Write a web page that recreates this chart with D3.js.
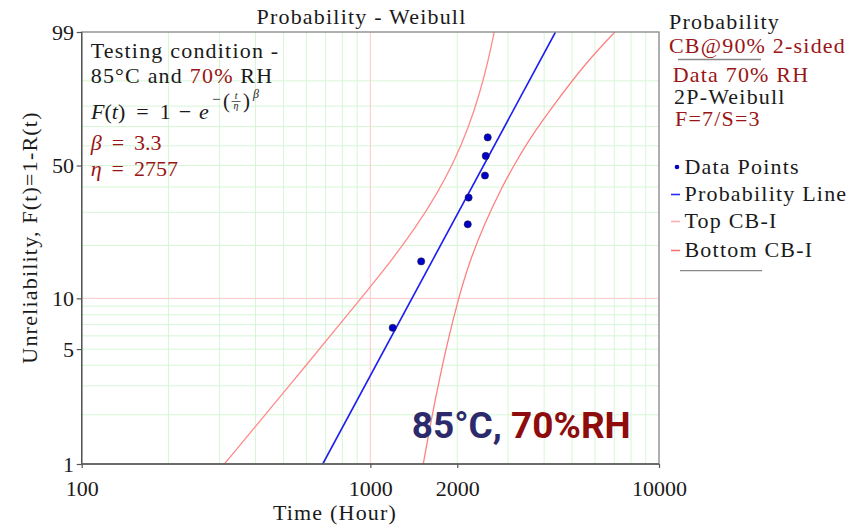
<!DOCTYPE html>
<html>
<head>
<meta charset="utf-8">
<script src="https://cdn.jsdelivr.net/npm/d3@7/dist/d3.min.js"></script>
<style>
body { margin: 0; background: #fff; }
text { font-family: "Liberation Serif", "Times New Roman", serif; }
.lbl { letter-spacing: 1.2px; }
</style>
</head>
<body>
<svg id="chart" width="866" height="527"></svg>
<script>
// failure data (median ranks, %)
var failureTimes = [1195, 1500, 2175, 2190, 2495, 2510, 2550];
var medianRanks = [6.7, 16.3, 26.0, 35.6, 45.2, 54.8, 64.4];

// fitted probability line end points
var lineTimes = [684, 4380];
var lineF = [1, 99];

// 90% two-sided confidence bounds
var topTimes = [312, 533, 951, 1177, 1432, 1697, 1954, 2185, 2385, 2557, 2687];
var topF = [1, 3.11, 10.5, 16.3, 24.9, 36.8, 52.1, 69.3, 84.9, 95.2, 99];
var bottomTimes = [1525, 1625, 1733, 1858, 2020, 2204, 2475, 2857, 3143, 3572, 4395, 5495, 7030];
var bottomF = [1, 1.86, 3.26, 5.67, 10, 16.2, 25.8, 40.0, 50, 64.1, 81.8, 94.4, 99];

// ticks and grid
var xTicks = [100, 1000, 2000, 10000];
var yTicks = [1, 5, 10, 50, 99];
var xMinor = [200, 300, 400, 500, 600, 700, 800, 900, 2000, 3000, 4000, 5000, 6000, 7000, 8000, 9000];
var xMajor = [1000];
var yMinor = [2, 3, 4, 5, 6, 7, 8, 9, 20, 30, 40, 50, 60, 70, 80, 90];
var yMajor = [10];

var red = "#9a1515";
var plot = {left: 81.7, right: 659, top: 32, bottom: 464};

// weibull probability paper transform
function wb(p) { return Math.log(-Math.log(1 - p / 100)); }

var x = d3.scaleLog().domain([100, 10000]).range([plot.left, plot.right]);
var y = d3.scaleLinear().domain([wb(1), wb(99)]).range([plot.bottom, plot.top]);

var svg = d3.select("#chart");
svg.append("rect").attr("width", 866).attr("height", 527).attr("fill", "#fff");

svg.append("clipPath").attr("id", "clip")
  .append("rect")
    .attr("x", plot.left).attr("y", plot.top)
    .attr("width", plot.right - plot.left).attr("height", plot.bottom - plot.top);

// grid
var grid = svg.append("g");
grid.selectAll(".gx").data(xMinor).enter().append("line")
  .attr("x1", d => x(d)).attr("x2", d => x(d))
  .attr("y1", plot.top).attr("y2", plot.bottom)
  .attr("stroke", "#d6f6d6").attr("stroke-width", 1);
grid.selectAll(".gy").data(yMinor).enter().append("line")
  .attr("x1", plot.left).attr("x2", plot.right)
  .attr("y1", d => y(wb(d))).attr("y2", d => y(wb(d)))
  .attr("stroke", "#d6f6d6").attr("stroke-width", 1);
grid.selectAll(".rx").data(xMajor).enter().append("line")
  .attr("x1", d => x(d)).attr("x2", d => x(d))
  .attr("y1", plot.top).attr("y2", plot.bottom)
  .attr("stroke", "#ffc8c8").attr("stroke-width", 1);
grid.selectAll(".ry").data(yMajor).enter().append("line")
  .attr("x1", plot.left).attr("x2", plot.right)
  .attr("y1", d => y(wb(d))).attr("y2", d => y(wb(d)))
  .attr("stroke", "#ffc8c8").attr("stroke-width", 1);

// curves
var curveLine = d3.line()
  .x(d => x(d[0])).y(d => y(wb(d[1])))
  .curve(d3.curveBasis);
var marks = svg.append("g").attr("clip-path", "url(#clip)");

marks.append("path")
  .datum(d3.zip(topTimes, topF))
  .attr("d", curveLine)
  .attr("fill", "none").attr("stroke", "#ff8a8a").attr("stroke-width", 1.3);
marks.append("path")
  .datum(d3.zip(bottomTimes, bottomF))
  .attr("d", curveLine)
  .attr("fill", "none").attr("stroke", "#ff8080").attr("stroke-width", 1.3);
marks.append("path")
  .datum(d3.zip(lineTimes, lineF))
  .attr("d", d3.line().x(d => x(d[0])).y(d => y(wb(d[1]))))
  .attr("fill", "none").attr("stroke", "#1c1cf0").attr("stroke-width", 1.6);

svg.append("g").selectAll("circle")
  .data(d3.zip(failureTimes, medianRanks))
  .enter().append("circle")
    .attr("cx", d => x(d[0])).attr("cy", d => y(wb(d[1])))
    .attr("r", 3.6)
    .attr("fill", "#0000c8").attr("stroke", "#202040").attr("stroke-width", 0.6);

// frame
svg.append("rect")
  .attr("x", plot.left).attr("y", plot.top)
  .attr("width", plot.right - plot.left).attr("height", plot.bottom - plot.top)
  .attr("fill", "none").attr("stroke", "#8e8e8e").attr("stroke-width", 1.4);

// axes
var yAxis = svg.append("g")
  .attr("transform", "translate(" + plot.left + ",0)")
  .call(d3.axisLeft(y).tickValues(yTicks.map(wb))
    .tickFormat((d, i) => yTicks[i]).tickSize(5).tickPadding(2.7));
var xAxis = svg.append("g")
  .attr("transform", "translate(0," + plot.bottom + ")")
  .call(d3.axisBottom(x).tickValues(xTicks)
    .tickFormat(d3.format("d")).tickSize(4).tickPadding(12.4));
[yAxis, xAxis].forEach(function(a) {
  a.select(".domain").attr("stroke", "#555").attr("stroke-width", 1.4);
  a.selectAll(".tick line").attr("stroke", "#555").attr("stroke-width", 1.2);
  a.selectAll(".tick text")
    .style("font-family", "'Liberation Serif', serif")
    .attr("font-size", 22).attr("fill", "#1a1a1a");
});
xAxis.select(".domain").attr("d", "M" + plot.left + ",0H" + plot.right);
yAxis.select(".domain").attr("d", "M0," + plot.bottom + "V" + plot.top);

// titles
svg.append("text").attr("class", "lbl")
  .attr("x", 361.5).attr("y", 23.5).attr("text-anchor", "middle")
  .attr("font-size", 22).attr("fill", "#1a1a1a")
  .text("Probability - Weibull");
svg.append("text").attr("class", "lbl")
  .attr("x", 335).attr("y", 520).attr("text-anchor", "middle")
  .attr("font-size", 22).attr("fill", "#1a1a1a")
  .text("Time (Hour)");
svg.append("text").attr("class", "lbl")
  .attr("transform", "translate(37,237.5) rotate(-90)")
  .attr("text-anchor", "middle")
  .attr("font-size", 22).attr("fill", "#1a1a1a")
  .text("Unreliability, F(t)=1-R(t)");

// text block inside the plot
var note = svg.append("g").attr("font-size", 22).attr("fill", "#1a1a1a");
note.append("text").attr("class", "lbl").attr("x", 90.7).attr("y", 57.5)
  .text("Testing condition -");
var t2 = note.append("text").attr("class", "lbl").attr("x", 90.7).attr("y", 82.5);
t2.append("tspan").text("85°C and ");
t2.append("tspan").attr("fill", red).text("70%");
t2.append("tspan").text(" RH");

// F(t) = 1 - e^{-(t/eta)^beta}
var fy = 118.5;
var f = note.append("g");
var ft = f.append("text").attr("x", 91).attr("y", fy);
ft.append("tspan").attr("font-style", "italic").text("F");
ft.append("tspan").text("(");
ft.append("tspan").attr("font-style", "italic").text("t");
ft.append("tspan").text(")");
ft.append("tspan").attr("dx", 11).text("=");
ft.append("tspan").attr("dx", 11).text("1");
ft.append("tspan").attr("dx", 8).text("\u2212");
ft.append("tspan").attr("dx", 8).attr("font-style", "italic").text("e");
var bb = ft.node().getBBox();
var ex = bb.x + bb.width + 1;
f.append("text").attr("x", ex + 2).attr("y", fy - 14.5).attr("font-size", 15).text("\u2212");
f.append("text").attr("x", ex + 13).attr("y", fy - 11).attr("font-size", 21).text("(");
f.append("text").attr("x", ex + 26).attr("y", fy - 19.5).attr("font-size", 10)
  .attr("font-style", "italic").attr("text-anchor", "middle").text("t");
f.append("line").attr("x1", ex + 21.5).attr("x2", ex + 30.5)
  .attr("y1", fy - 17).attr("y2", fy - 17).attr("stroke", "#1a1a1a").attr("stroke-width", 0.7);
f.append("text").attr("x", ex + 26).attr("y", fy - 10).attr("font-size", 10)
  .attr("font-style", "italic").attr("text-anchor", "middle").text("η");
f.append("text").attr("x", ex + 33).attr("y", fy - 11).attr("font-size", 21).text(")");
f.append("text").attr("x", ex + 43).attr("y", fy - 20.5).attr("font-size", 12)
  .attr("font-style", "italic").text("β");

var b1 = note.append("text").attr("x", 90.7).attr("y", 150).attr("fill", red);
b1.append("tspan").attr("font-style", "italic").text("β");
b1.append("tspan").attr("dx", 10).text("=");
b1.append("tspan").attr("dx", 10).text("3.3");
var b2 = note.append("text").attr("x", 90.7).attr("y", 175.5).attr("fill", red);
b2.append("tspan").attr("font-style", "italic").text("η");
b2.append("tspan").attr("dx", 10).text("=");
b2.append("tspan").attr("dx", 10).text("2757");

// right side info + legend
var side = svg.append("g").attr("font-size", 22).attr("fill", "#1a1a1a");
side.append("text").attr("class", "lbl").attr("x", 669).attr("y", 29.3).text("Probability");
side.append("text").attr("class", "lbl").attr("x", 669).attr("y", 53.3).attr("fill", red).text("CB@90% 2-sided");
side.append("line").attr("x1", 678).attr("x2", 761).attr("y1", 59.5).attr("y2", 59.5)
  .attr("stroke", "#888").attr("stroke-width", 1.3);
side.append("text").attr("class", "lbl").attr("x", 672.7).attr("y", 81.7).attr("fill", red).text("Data 70% RH");
side.append("text").attr("class", "lbl").attr("x", 674).attr("y", 104.3).text("2P-Weibull");
side.append("text").attr("class", "lbl").attr("x", 675).attr("y", 126).attr("fill", red).text("F=7/S=3");

var legendItems = ["Data Points", "Probability Line", "Top CB-I", "Bottom CB-I"];
var legendColors = ["#0000c8", "#2a2aff", "#ffb0b0", "#ff7070"];
var legendY = [174, 201, 228, 257];
var leg = side.append("g");
legendItems.forEach(function(name, i) {
  if (i === 0) {
    leg.append("circle").attr("cx", 677).attr("cy", legendY[i] - 7).attr("r", 2.3).attr("fill", legendColors[i]);
  } else {
    leg.append("line").attr("x1", 671).attr("x2", 680)
      .attr("y1", legendY[i] - 6.5).attr("y2", legendY[i] - 6.5)
      .attr("stroke", legendColors[i]).attr("stroke-width", 1.6);
  }
  leg.append("text").attr("class", "lbl").attr("x", 684.5).attr("y", legendY[i]).text(name);
});
side.append("line").attr("x1", 680).attr("x2", 762).attr("y1", 270.7).attr("y2", 270.7)
  .attr("stroke", "#888").attr("stroke-width", 1.3);

// big annotation
var big = svg.append("text").attr("x", 411.7).attr("y", 438)
  .style("font-family", "Roboto, 'Noto Sans', sans-serif")
  .attr("font-size", 37).attr("font-weight", 700);
big.append("tspan").attr("fill", "#2d2a6c").text("85°C, ");
big.append("tspan").attr("fill", "#8e0c0c").text("70%RH");
</script>
</body>
</html>
